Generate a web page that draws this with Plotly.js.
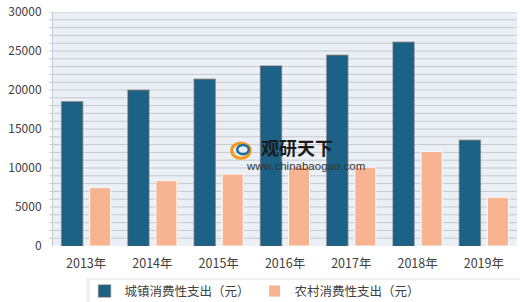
<!DOCTYPE html>
<html>
<head>
<meta charset="utf-8">
<script src="https://cdn.plot.ly/plotly-3.0.1.min.js"></script>
<style>html,body{margin:0;padding:0;background:#fff;}#chart{width:520px;height:302px;}</style>
</head>
<body>
<div id="chart"></div>
<script>
var categories = ["2013年", "2014年", "2015年", "2016年", "2017年", "2018年", "2019年"];
var urbanName = "城镇消费性支出（元）";
var ruralName = "农村消费性支出（元）";
var urbanValues = [18488, 19968, 21392, 23079, 24445, 26112, 13550];
var ruralValues = [7485, 8383, 9223, 10130, 10100, 12124, 6250];
var yTickVals = [0, 5000, 10000, 15000, 20000, 25000, 30000];
var yTickText = ["0", "5000", "10000", "15000", "20000", "25000", "30000"];

var font = "'Noto Sans CJK SC', 'Microsoft YaHei', sans-serif";

var traces = [
  {type: "bar", name: urbanName, x: categories, y: urbanValues,
   marker: {color: "#1b6286", line: {color: "rgba(90,90,90,0.5)", width: 1.5}}},
  {type: "bar", name: ruralName, x: categories, y: ruralValues,
   marker: {color: "#f8b491", line: {color: "rgba(255,255,255,0.9)", width: 1}}}
];

var layout = {
  width: 520, height: 302,
  margin: {l: 53, r: 3, t: 12, b: 56, autoexpand: false},
  paper_bgcolor: "#ffffff",
  plot_bgcolor: "#eaf0f6",
  font: {family: font, size: 12, color: "#404040"},
  barmode: "group",
  bargap: 0.155,
  bargroupgap: 0.25,
  showlegend: true,
  legend: {orientation: "h", x: 0.068, y: -0.13, xanchor: "left", yanchor: "top",
           bgcolor: "rgba(0,0,0,0)", font: {size: 12.5, color: "#404040"},
           traceorder: "normal", entrywidth: 125, itemwidth: 30},
  xaxis: {showgrid: false, showline: false, ticks: "", ticklabelstandoff: 8,
          tickfont: {size: 12.5, color: "#404040"}},
  yaxis: {range: [0, 30000], tickvals: yTickVals, ticktext: yTickText, showgrid: false, zeroline: false,
          showline: true, linecolor: "#c4c8cc", linewidth: 1, ticklabeloverflow: "allow",
          ticklabelstandoff: 8, ticks: "", tickfont: {size: 12, color: "#404040"}},
  shapes: [],
  annotations: [
    {xref: "paper", yref: "paper", x: 0.525, y: 0.422, text: "<b>观研天下</b>", showarrow: false,
     font: {size: 18, color: "#1a1a1a", family: font}},
    {xref: "paper", yref: "paper", x: 0.545, y: 0.34, text: "www.chinabaogao.com", showarrow: false,
     font: {size: 11.5, color: "#333333", family: "'Liberation Sans', Arial, sans-serif"}}
  ]
};

for (var g = 1000; g <= 30000; g += 1000) {
  layout.shapes.push({type: "line", xref: "paper", yref: "y", x0: -0.008, x1: 1, y0: g, y1: g,
    line: {color: "#c6cacf", width: 1}, layer: "below"});
}
layout.shapes.push({type: "rect", xref: "paper", yref: "paper", x0: 0.072, x1: 1.01, y0: -0.245, y1: -0.137,
  fillcolor: "rgba(0,0,0,0.06)", line: {width: 0}, layer: "below"});
layout.shapes.push({type: "rect", xref: "paper", yref: "paper", x0: 0.080, x1: 1.01, y0: -0.245, y1: -0.145,
  fillcolor: "#ffffff", line: {width: 0}, layer: "below"});
layout.shapes.push({type: "circle", xref: "paper", yref: "paper", x0: 0.385, x1: 0.425, y0: 0.375, y1: 0.44,
  fillcolor: "rgba(0,0,0,0)", line: {color: "#f39a1c", width: 3}});
layout.shapes.push({type: "circle", xref: "paper", yref: "paper", x0: 0.397, x1: 0.422, y0: 0.392, y1: 0.432,
  fillcolor: "rgba(0,0,0,0)", line: {color: "#1f6f9a", width: 2.5}});

Plotly.newPlot("chart", traces, layout, {displayModeBar: false, staticPlot: true});
</script>
</body>
</html>
